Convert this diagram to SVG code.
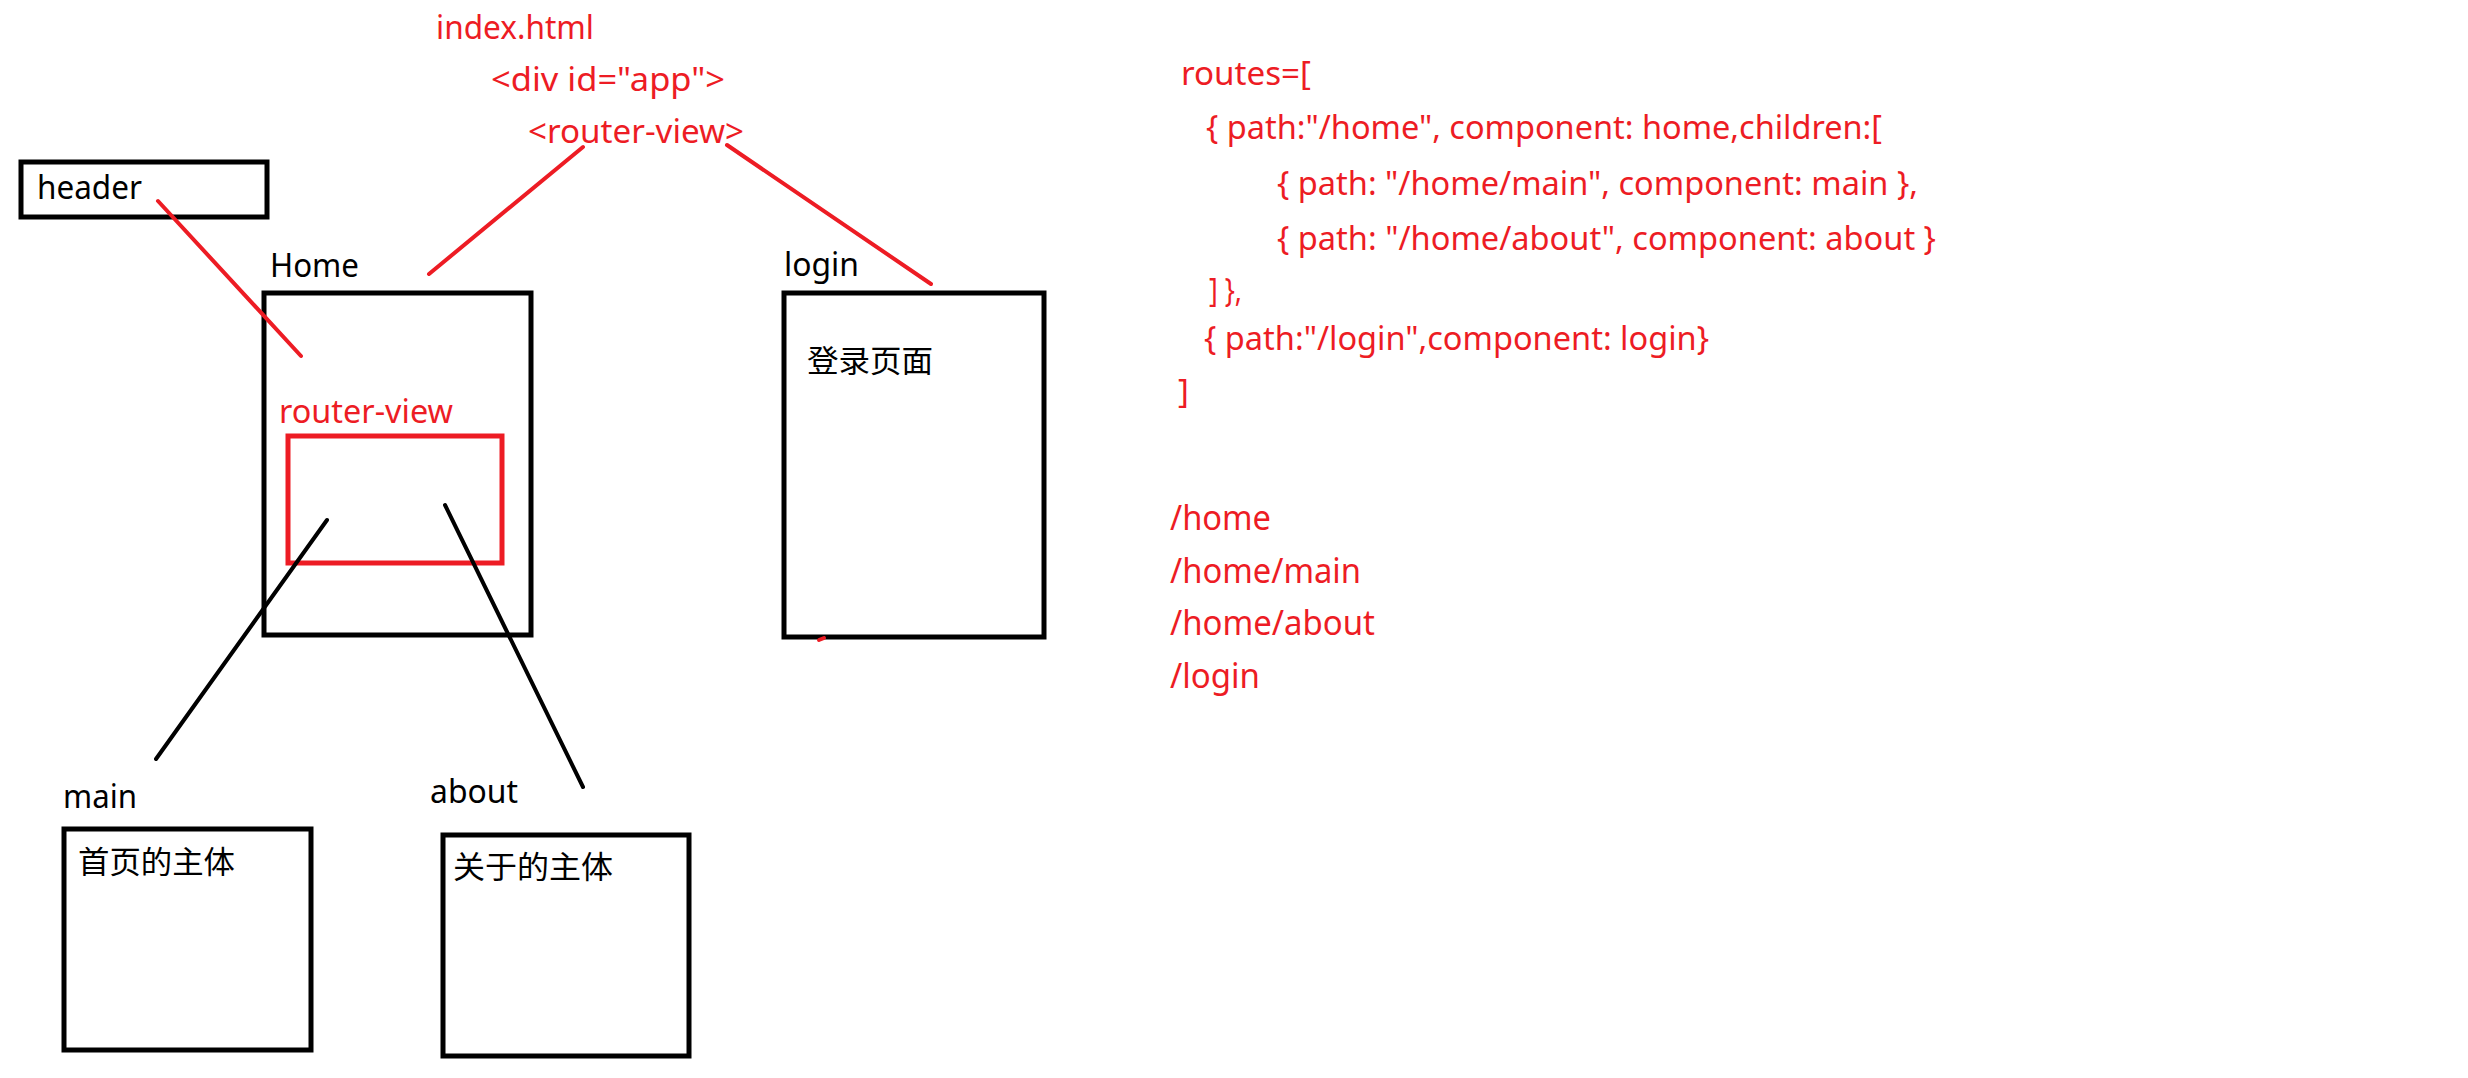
<svg xmlns="http://www.w3.org/2000/svg" width="2468" height="1078" viewBox="0 0 2468 1078">
<style>
  text { font-family: "Noto Sans", "Open Sans", "Noto Sans CJK SC", sans-serif; font-size: 32px; }
  .blk { fill: #000; }
  .red { fill: #ED1C24; }
  .code { font-size: 33px; }
  .path { font-size: 34px; }
  .cjk { font-family: "Noto Sans CJK SC", sans-serif; font-size: 31px; }
  .box { fill: none; stroke: #000; stroke-width: 5; }
  .rbox { fill: none; stroke: #ED1C24; stroke-width: 5; }
  .rl { stroke: #ED1C24; stroke-width: 4; stroke-linecap: round; fill: none; }
  .bl { stroke: #000; stroke-width: 4; stroke-linecap: round; fill: none; }
</style>
<rect width="2468" height="1078" fill="#fff"/>

<g id="index-html">
  <text class="red" x="436" y="39" textLength="158" lengthAdjust="spacingAndGlyphs">index.html</text>
  <text class="red" x="491" y="91" textLength="234" lengthAdjust="spacingAndGlyphs">&lt;div id="app"&gt;</text>
  <text class="red" x="528" y="143" textLength="216" lengthAdjust="spacingAndGlyphs">&lt;router-view&gt;</text>
</g>

<g id="header">
  <rect class="box" x="21" y="162" width="246" height="55"/>
  <text class="blk" x="37" y="199" textLength="105" lengthAdjust="spacingAndGlyphs">header</text>
</g>

<g id="home">
  <text class="blk" x="270" y="277" textLength="89" lengthAdjust="spacingAndGlyphs">Home</text>
  <rect class="box" x="264" y="293" width="267" height="342"/>
  <text class="red" x="279" y="423" textLength="174" lengthAdjust="spacingAndGlyphs">router-view</text>
  <rect class="rbox" x="288" y="436" width="214" height="127"/>
</g>

<g id="login">
  <text class="blk" x="784" y="276" textLength="75" lengthAdjust="spacingAndGlyphs">login</text>
  <rect class="box" x="784" y="293" width="260" height="344"/>
  <text class="blk cjk" x="807" y="372" textLength="126" lengthAdjust="spacingAndGlyphs">登录页面</text>
</g>

<g id="main">
  <text class="blk" x="63" y="808" textLength="74" lengthAdjust="spacingAndGlyphs">main</text>
  <rect class="box" x="64" y="829" width="247" height="221"/>
  <text class="blk cjk" x="78" y="873" textLength="157" lengthAdjust="spacingAndGlyphs">首页的主体</text>
</g>

<g id="about">
  <text class="blk" x="430" y="803" textLength="88" lengthAdjust="spacingAndGlyphs">about</text>
  <rect class="box" x="443" y="835" width="246" height="221"/>
  <text class="blk cjk" x="453" y="878" textLength="160" lengthAdjust="spacingAndGlyphs">关于的主体</text>
</g>

<g id="routes">
  <text class="red code" x="1181" y="85" textLength="130" lengthAdjust="spacingAndGlyphs">routes=[</text>
  <text class="red code" x="1206" y="139" textLength="676" lengthAdjust="spacingAndGlyphs">{ path:"/home", component: home,children:[</text>
  <text class="red code" x="1277" y="195" textLength="641" lengthAdjust="spacingAndGlyphs">{ path: "/home/main", component: main },</text>
  <text class="red code" x="1277" y="250" textLength="659" lengthAdjust="spacingAndGlyphs">{ path: "/home/about", component: about }</text>
  <text class="red code" x="1209" y="302" textLength="33" lengthAdjust="spacingAndGlyphs">] },</text>
  <text class="red code" x="1204" y="350" textLength="505" lengthAdjust="spacingAndGlyphs">{ path:"/login",component: login}</text>
  <text class="red code" x="1178" y="403">]</text>
</g>

<g id="paths">
  <text class="red path" x="1170" y="530" textLength="101" lengthAdjust="spacingAndGlyphs">/home</text>
  <text class="red path" x="1170" y="583" textLength="191" lengthAdjust="spacingAndGlyphs">/home/main</text>
  <text class="red path" x="1170" y="635" textLength="205" lengthAdjust="spacingAndGlyphs">/home/about</text>
  <text class="red path" x="1170" y="688" textLength="90" lengthAdjust="spacingAndGlyphs">/login</text>
</g>

<g id="connectors">
  <line class="rl" x1="583" y1="147" x2="429" y2="274"/>
  <line class="rl" x1="727" y1="145" x2="931" y2="284"/>
  <line class="rl" x1="158" y1="201" x2="301" y2="356"/>
  <line class="rl" x1="819" y1="640" x2="824" y2="638"/>
  <line class="bl" x1="327" y1="520" x2="156" y2="759"/>
  <line class="bl" x1="445" y1="505" x2="583" y2="787"/>
</g>
</svg>
